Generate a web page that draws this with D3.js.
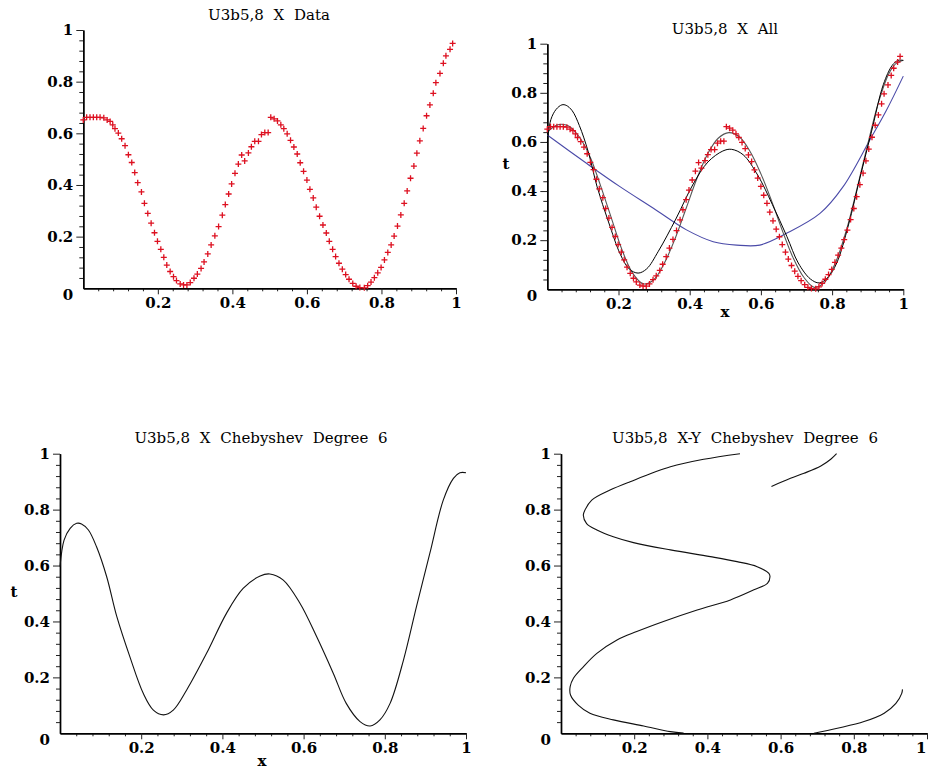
<!doctype html>
<html>
<head>
<meta charset="utf-8">
<script src="https://cdn.jsdelivr.net/npm/d3@7"></script>
<style>
  body { margin: 0; background: #fff; }
  svg text { font-family: "DejaVu Serif", serif; fill: #000; }
  .tick text { font-size: 15px; font-weight: bold; }
  .title { font-size: 15px; word-spacing: 5px; }
  .alab { font-size: 15px; font-weight: bold; }
</style>
</head>
<body>
<svg id="chart" width="928" height="769"></svg>
<script>
// measured data points (x, t)
var dataX = [0.000,0.009,0.018,0.027,0.036,0.045,0.055,0.064,0.072,0.079,0.085,0.094,0.103,0.112,0.121,0.130,
  0.138,0.146,0.156,0.164,0.173,0.182,0.191,0.199,0.208,0.216,0.224,0.233,0.242,0.250,0.260,0.269,0.278,0.287,
  0.297,0.306,0.316,0.324,0.334,0.343,0.353,0.363,0.373,0.381,0.390,0.398,0.407,0.416,0.425,0.433,0.443,0.451,
  0.460,0.470,0.478,0.487,0.496,0.503,0.512,0.521,0.530,0.538,0.547,0.556,0.565,0.574,0.582,0.591,0.600,0.608,
  0.617,0.625,0.634,0.643,0.652,0.660,0.669,0.677,0.686,0.695,0.704,0.713,0.723,0.732,0.742,0.754,0.763,0.772,
  0.781,0.790,0.799,0.808,0.817,0.826,0.834,0.843,0.852,0.861,0.869,0.878,0.887,0.895,0.903,0.912,0.921,0.930,
  0.939,0.946,0.957,0.966,0.973,0.984,0.991];
var dataT = [0.652,0.662,0.662,0.662,0.662,0.662,0.660,0.652,0.646,0.633,0.618,0.601,0.579,0.552,0.517,0.487,
  0.448,0.409,0.373,0.329,0.290,0.252,0.215,0.182,0.151,0.120,0.090,0.065,0.045,0.030,0.017,0.013,0.013,0.022,
  0.039,0.055,0.077,0.102,0.133,0.168,0.203,0.239,0.283,0.324,0.365,0.404,0.445,0.481,0.516,0.493,0.524,0.548,
  0.569,0.569,0.595,0.603,0.603,0.662,0.656,0.648,0.633,0.618,0.598,0.573,0.547,0.520,0.486,0.453,0.419,0.383,
  0.350,0.314,0.279,0.245,0.214,0.182,0.151,0.123,0.097,0.074,0.053,0.035,0.019,0.008,0.003,0.002,0.010,0.024,
  0.041,0.060,0.081,0.110,0.139,0.168,0.202,0.241,0.284,0.329,0.377,0.426,0.473,0.523,0.571,0.619,0.668,0.710,
  0.755,0.796,0.832,0.871,0.900,0.925,0.948];

// Chebyshev degree 6 fit
var chebX = [0.000,0.010,0.025,0.041,0.053,0.070,0.090,0.115,0.140,0.172,0.205,0.230,0.255,0.279,0.312,0.361,
  0.410,0.451,0.493,0.517,0.550,0.591,0.632,0.673,0.705,0.739,0.764,0.788,0.813,0.846,0.878,0.911,0.944,0.969,
  0.985,1.000];
var chebT = [0.596,0.691,0.733,0.751,0.749,0.727,0.667,0.560,0.417,0.274,0.143,0.083,0.066,0.083,0.155,0.286,
  0.429,0.518,0.563,0.570,0.548,0.465,0.346,0.215,0.107,0.042,0.026,0.048,0.107,0.262,0.453,0.644,0.834,0.912,
  0.932,0.932];

// higher degree fit (grey)
var fitX = [0.000,0.030,0.060,0.090,0.120,0.150,0.180,0.210,0.240,0.270,0.300,0.330,0.360,0.390,0.420,0.450,
  0.480,0.510,0.540,0.570,0.600,0.630,0.660,0.690,0.720,0.750,0.780,0.810,0.840,0.870,0.900,0.930,0.960,0.980,1.000];
var fitT = [0.640,0.670,0.665,0.620,0.540,0.420,0.290,0.160,0.065,0.022,0.040,0.110,0.210,0.330,0.450,0.550,
  0.615,0.638,0.620,0.560,0.470,0.360,0.240,0.130,0.050,0.008,0.030,0.110,0.240,0.410,0.590,0.760,0.880,0.920,0.933];

// low degree fit (blue)
var lowX = [0.000,0.110,0.204,0.298,0.391,0.466,0.532,0.597,0.672,0.766,0.831,0.906,0.953,1.000];
var lowT = [0.628,0.513,0.418,0.330,0.242,0.194,0.180,0.180,0.228,0.309,0.418,0.608,0.730,0.868];

// X-Y Chebyshev curve, three pieces (x, y)
var xyMainX = [0.489,0.390,0.299,0.189,0.134,0.084,0.066,0.061,0.070,0.098,0.143,0.198,0.299,0.408,0.481,0.536,
  0.568,0.571,0.564,0.527,0.463,0.372,0.280,0.207,0.153,0.098,0.061,0.034,0.025,0.026,0.047,0.079,0.143,0.226,
  0.299,0.335];
var xyMainY = [1.000,0.980,0.953,0.900,0.870,0.834,0.800,0.780,0.750,0.727,0.703,0.682,0.656,0.632,0.614,0.596,
  0.572,0.560,0.536,0.513,0.477,0.441,0.400,0.364,0.334,0.286,0.238,0.197,0.167,0.137,0.101,0.072,0.048,0.026,
  0.006,0.001];
var xyTopX = [0.575,0.627,0.664,0.710,0.737,0.753];
var xyTopY = [0.883,0.912,0.930,0.956,0.980,1.000];
var xyLowX = [0.691,0.755,0.828,0.883,0.915,0.931,0.933];
var xyLowY = [0.000,0.018,0.042,0.072,0.107,0.143,0.157];

var majors = [0.2, 0.4, 0.6, 0.8, 1];
var minors = d3.range(1, 25).map(function(i){ return i * 0.04; })
  .filter(function(v){ return Math.abs(v / 0.2 - Math.round(v / 0.2)) > 1e-6; });

var svg = d3.select("#chart");

function panel(o) {
  var x = d3.scaleLinear().domain([0, 1]).range([o.x0, o.x1]);
  var y = d3.scaleLinear().domain([0, 1]).range([o.y0, o.y1]);
  var g = svg.append("g");

  // minor ticks
  g.append("g").attr("transform", "translate(" + o.x0 + ",0)")
    .call(d3.axisLeft(y).tickValues(minors).tickSize(4).tickSizeOuter(0).tickFormat(""));
  g.append("g").attr("transform", "translate(0," + o.y0 + ")")
    .call(d3.axisBottom(x).tickValues(minors).tickSize(3).tickSizeOuter(0).tickFormat(""));
  // major ticks + labels
  g.append("g").attr("transform", "translate(" + o.x0 + ",0)")
    .call(d3.axisLeft(y).tickValues(majors).tickSize(7).tickPadding(3).tickSizeOuter(0).tickFormat(d3.format("~g")));
  var xa = g.append("g").attr("transform", "translate(0," + o.y0 + ")")
    .call(d3.axisBottom(x).tickValues(majors).tickSize(6).tickPadding(3).tickSizeOuter(0).tickFormat(d3.format("~g")));
  if (o.edge) {
    // last label sits at the window edge
    xa.selectAll(".tick text").filter(function(d){ return d === 1; }).attr("text-anchor", "end").attr("dx", "-1px");
  }
  g.selectAll(".domain").attr("stroke", "#000").attr("stroke-width", 1.4);
  g.selectAll(".tick line").attr("stroke", "#222");

  g.append("text").attr("x", o.x0 - 10).attr("y", o.y0 + 12)
    .attr("text-anchor", "end").style("font-size", "15px").style("font-weight", "bold").text("0");

  g.append("text").attr("class", "title").attr("x", o.tx).attr("y", o.ty)
    .attr("text-anchor", "middle").text(o.title);
  if (o.tlab) {
    g.append("text").attr("class", "alab").attr("x", o.tlab[0]).attr("y", o.tlab[1])
      .attr("text-anchor", "middle").text("t");
    g.append("text").attr("class", "alab").attr("x", o.xlab[0]).attr("y", o.xlab[1])
      .attr("text-anchor", "middle").text("x");
  }
  return { g: g, x: x, y: y };
}

function curve(p, xs, ys, color, w) {
  var pts = xs.map(function(v, i){ return [v, ys[i]]; });
  p.g.append("path").datum(pts)
    .attr("fill", "none").attr("stroke", color).attr("stroke-width", w)
    .attr("d", d3.line().x(function(d){ return p.x(d[0]); }).y(function(d){ return p.y(d[1]); })
      .curve(d3.curveCatmullRom));
}

function crosses(p) {
  var pts = dataX.map(function(v, i){ return [v, dataT[i]]; });
  p.g.selectAll(".pt").data(pts).enter().append("path")
    .attr("transform", function(d){ return "translate(" + p.x(d[0]) + "," + p.y(d[1]) + ")"; })
    .attr("d", "M-3,0H3M0,-3V3")
    .attr("stroke", "#dd1020").attr("stroke-width", 1.3);
}

var p1 = panel({x0: 83.3, x1: 456, y0: 288.3, y1: 30, tx: 269, ty: 20, title: "U3b5,8 X Data"});
crosses(p1);

var p2 = panel({x0: 547.3, x1: 903.3, y0: 289.3, y1: 43.7, tx: 725, ty: 34, title: "U3b5,8 X All",
  tlab: [506, 169], xlab: [725, 317]});
curve(p2, lowX, lowT, "#4a4aa8", 1.1);
curve(p2, fitX, fitT, "#555", 1.1);
curve(p2, chebX, chebT, "#000", 1);
crosses(p2);

var p3 = panel({x0: 60, x1: 466, y0: 733.3, y1: 453.7, tx: 261, ty: 443, title: "U3b5,8 X Chebyshev Degree 6",
  tlab: [14, 597], xlab: [262, 766]});
curve(p3, chebX, chebT, "#111", 1.1);

var p4 = panel({x0: 561, x1: 927, y0: 733.3, y1: 453.7, tx: 745, ty: 443, edge: true,
  title: "U3b5,8 X-Y Chebyshev Degree 6"});
curve(p4, xyMainX, xyMainY, "#111", 1.1);
curve(p4, xyTopX, xyTopY, "#111", 1.1);
curve(p4, xyLowX, xyLowY, "#111", 1.1);
</script>
</body>
</html>
